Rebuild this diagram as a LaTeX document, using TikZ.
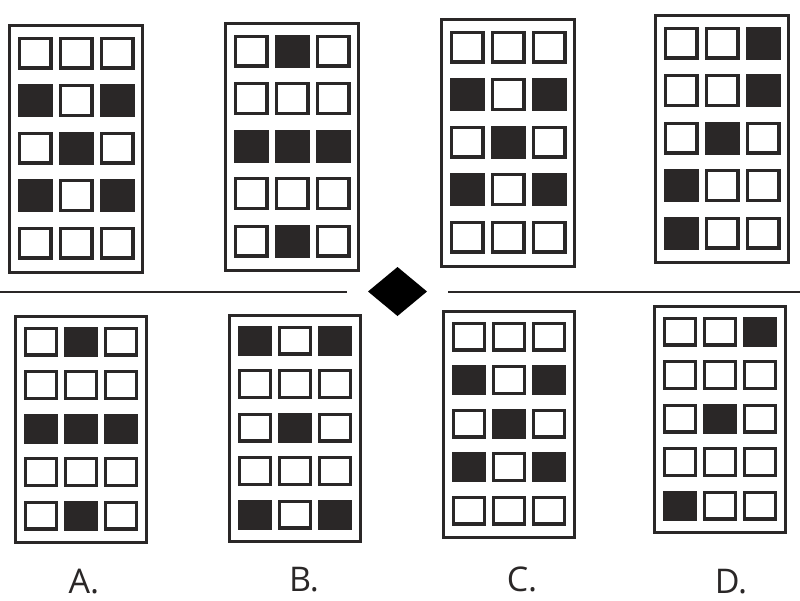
\documentclass[tikz,border=0pt]{standalone}
\usepackage{fontspec}
\setmainfont{Open Sans}
\usetikzlibrary{calc}

\definecolor{ink}{HTML}{2A2727}

% one answer card: frame at (#1,#2), filled cells given as row/col
\newcommand{\toppanel}[3]{%
  \draw[frame] (#1+1.5,#2+1.5) rectangle (#1+134.5,#2+248.5);
  \foreach \r in {1,...,5} \foreach \c in {1,...,3}
    \draw[cell] (#1+11.1+41*\c-41,#2+14.1+47.5*\r-47.5) rectangle ++(31.8,29.8);
  \foreach \r/\c in {#3}
    \filldraw[cell,fill=ink] (#1+11.1+41*\c-41,#2+14.1+47.5*\r-47.5) rectangle ++(31.8,29.8);
}
\newcommand{\botpanel}[3]{%
  \draw[frame] (#1+1.5,#2+1.5) rectangle (#1+132.5,#2+227.5);
  \foreach \r in {1,...,5} \foreach \c in {1,...,3}
    \draw[cell] (#1+11.6+40*\c-40,#2+13.1+43.5*\r-43.5) rectangle ++(30.8,26.8);
  \foreach \r/\c in {#3}
    \filldraw[cell,fill=ink] (#1+11.6+40*\c-40,#2+13.1+43.5*\r-43.5) rectangle ++(30.8,26.8);
}

\begin{document}
\begin{tikzpicture}[x=1pt,y=-1pt,
    frame/.style={draw=ink,line width=3pt},
    cell/.style={draw=ink,line width=3.2pt},
    choice/.style={anchor=base,inner sep=0pt,font=\fontsize{34}{40}\selectfont,text=ink}]
    \useasboundingbox[fill=white] (0,0) rectangle (800,600);

    % question row
    \toppanel{8}{24}{2/1,2/3,3/2,4/1,4/3}
    \toppanel{224}{22}{1/2,3/1,3/2,3/3,5/2}
    \toppanel{440}{18}{2/1,2/3,3/2,4/1,4/3}
    \toppanel{654}{14}{1/3,2/3,3/2,4/1,5/1}

    % separator
    \coordinate (L0) at (0,292);
    \coordinate (L1) at (347,292);
    \coordinate (R0) at (448,292);
    \coordinate (R1) at (800,292);
    \draw[ink,line width=2pt] (L0) -- (L1);
    \draw[ink,line width=2pt] (R0) -- (R1);
    \fill[black] (368,291.5) -- (397.5,267) -- (427,291.5) -- (397.5,316) -- cycle;

    % answer row
    \botpanel{14}{315}{1/2,3/1,3/2,3/3,5/2}
    \botpanel{228}{314}{1/1,1/3,3/2,5/1,5/3}
    \botpanel{442}{310}{2/1,2/3,3/2,4/1,4/3}
    \botpanel{653}{305}{1/3,3/2,5/1}

    \node[choice] (optA) at (84,593) {A.};
    \node[choice] (optB) at (304,591) {B.};
    \node[choice] (optC) at (522,591) {C.};
    \node[choice] (optD) at (731,593) {D.};
\end{tikzpicture}
\end{document}
